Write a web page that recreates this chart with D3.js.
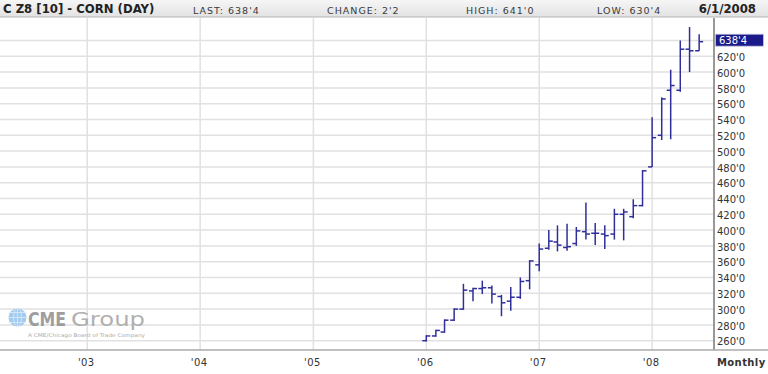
<!DOCTYPE html>
<html>
<head>
<meta charset="utf-8">
<script src="https://cdn.jsdelivr.net/npm/d3@7"></script>
<style>
  html, body { margin: 0; padding: 0; background: #fff; }
  svg { display: block; }
  text { font-family: "DejaVu Sans", Verdana, sans-serif; }
</style>
</head>
<body>
<svg id="chart" width="768" height="374"></svg>
<script>
// ---- data (monthly OHLC, CZ8 corn) ----
const months = ["2006-01","2006-02","2006-03","2006-04","2006-05","2006-06","2006-07","2006-08","2006-09","2006-10","2006-11","2006-12",
                "2007-01","2007-02","2007-03","2007-04","2007-05","2007-06","2007-07","2007-08","2007-09","2007-10","2007-11","2007-12",
                "2008-01","2008-02","2008-03","2008-04","2008-05","2008-06"];
const openV  = [260,266,271,286,300,323,326,327,316,310,315,336, 356,377,385,378,383,398,396,395,395,420,417,431, 480,520,577,577,629,627];
const highV  = [267,274,287,301,332,327,336,330,318,328,340,362, 383,400,406,408,404,435,409,406,427,427,439,476, 543,568,603,640,657,648];
const lowV   = [259,265,270,285,299,310,319,307,291,298,313,325, 348,375,373,374,380,388,381,376,388,387,415,430, 480,514,515,575,600,627];
const closeV = [266,273,286,300,324,326,327,319,308,315,335,361, 376,386,381,379,399,395,396,393,420,423,431,475, 517,566,583,629,627,638.5];
const yTicks = [260,280,300,320,340,360,380,400,420,440,460,480,500,520,540,560,580,600,620];
const gridValues = [260,280,300,320,340,360,380,400,420,440,460,480,500,520,540,560,580,600,620,640];
const yearTicks = ["2003","2004","2005","2006","2007","2008"];
const lastLabel = "638'4";
const lastValue = 638.5;
const headerItems = ["LAST: 638'4", "CHANGE: 2'2", "HIGH: 641'0", "LOW: 630'4"];
const titleText = "C Z8 [10] - CORN (DAY)";
const dateText = "6/1/2008";

// ---- layout ----
const W = 768, H = 374;
const plotLeft = 0, plotRight = 714, plotTop = 18, plotBottom = 350;
const parseM = d3.timeParse("%Y-%m");
const parseY = d3.timeParse("%Y");

const svg = d3.select("#chart");

const x = d3.scaleTime()
  .domain([new Date(2002, 2, 25), new Date(2008, 6, 19)])
  .range([plotLeft, plotRight]);
const y = d3.scaleLinear().domain([260, 640]).range([340.7, 40.5]);

// header
const defs = svg.append("defs");
const grad = defs.append("linearGradient").attr("id", "hdr").attr("x1", 0).attr("y1", 0).attr("x2", 0).attr("y2", 1);
grad.append("stop").attr("offset", "0%").attr("stop-color", "#f6f6f6");
grad.append("stop").attr("offset", "100%").attr("stop-color", "#e2e2e2");
svg.append("rect").attr("x", 0).attr("y", 0).attr("width", W).attr("height", 17).attr("fill", "url(#hdr)");
svg.append("line").attr("x1", 0).attr("x2", W).attr("y1", 17).attr("y2", 17).attr("stroke", "#b4b4b4").attr("stroke-width", 1);

svg.append("text").attr("x", 3).attr("y", 13.3)
  .attr("font-size", "11.7px").attr("font-weight", "bold").attr("fill", "#222").text(titleText);
const hdrX = [193, 327, 466, 597];
svg.selectAll("text.hdr").data(headerItems).join("text").attr("class", "hdr")
  .attr("x", (d, i) => hdrX[i]).attr("y", 13.6)
  .attr("font-size", "9.5px").attr("letter-spacing", "1px").attr("fill", "#3a3a3a").text(d => d);
svg.append("text").attr("x", 756).attr("y", 13.3).attr("text-anchor", "end")
  .attr("font-size", "11.7px").attr("font-weight", "bold").attr("fill", "#222").text(dateText);

// gridlines
const grid = svg.append("g");
grid.selectAll("line.h").data(gridValues).join("line").attr("class", "h")
  .attr("x1", plotLeft).attr("x2", plotRight)
  .attr("y1", d => y(d)).attr("y2", d => y(d))
  .attr("stroke", "#e1e1e1").attr("stroke-width", 1.5);
grid.selectAll("line.v").data(yearTicks).join("line").attr("class", "v")
  .attr("x1", d => x(parseY(d))).attr("x2", d => x(parseY(d)))
  .attr("y1", plotTop).attr("y2", plotBottom)
  .attr("stroke", "#e1e1e1").attr("stroke-width", 1.5);

// CME logo (watermark)
const logo = svg.append("g").attr("opacity", 0.85);
logo.append("circle").attr("cx", 17.5).attr("cy", 317.5).attr("r", 9).attr("fill", "#93c2ea");
[-5, 0, 5].forEach(dy => {
  logo.append("line").attr("x1", 8.5).attr("x2", 26.5).attr("y1", 317.5 + dy).attr("y2", 317.5 + dy)
    .attr("stroke", "#d6e8f7").attr("stroke-width", 0.8);
});
logo.append("ellipse").attr("cx", 17.5).attr("cy", 317.5).attr("rx", 4).attr("ry", 9)
  .attr("fill", "none").attr("stroke", "#d6e8f7").attr("stroke-width", 0.8);
logo.append("line").attr("x1", 17.5).attr("x2", 17.5).attr("y1", 308.5).attr("y2", 326.5)
  .attr("stroke", "#d6e8f7").attr("stroke-width", 0.8);
logo.append("text").attr("x", 28).attr("y", 326).attr("font-family", "Liberation Sans, Arial, sans-serif")
  .attr("font-size", "19px").attr("font-weight", "bold").attr("fill", "#8e8e8e")
  .attr("textLength", 38).attr("lengthAdjust", "spacingAndGlyphs").text("CME");
logo.append("text").attr("x", 71).attr("y", 326).attr("font-family", "Open Sans, sans-serif")
  .attr("font-size", "20px").attr("fill", "#a4a4a4")
  .attr("textLength", 74).attr("lengthAdjust", "spacingAndGlyphs").text("Group");
logo.append("text").attr("x", 28).attr("y", 337).attr("font-family", "Liberation Sans, Arial, sans-serif")
  .attr("font-size", "5px").attr("fill", "#9a9a9a")
  .attr("textLength", 117).attr("lengthAdjust", "spacingAndGlyphs").text("A CME/Chicago Board of Trade Company");

// OHLC bars
const bars = months.map((m, i) => ({ date: parseM(m), o: openV[i], h: highV[i], l: lowV[i], c: closeV[i] }));
const barColor = "#2f2f9c";
const tick = 4;
const gb = svg.append("g").attr("stroke", barColor).attr("stroke-width", 1.5).attr("fill", "none");
const bg = gb.selectAll("g").data(bars).join("g");
bg.append("line").attr("x1", d => x(d.date)).attr("x2", d => x(d.date)).attr("y1", d => y(d.h)).attr("y2", d => y(d.l));
bg.append("line").attr("x1", d => x(d.date) - tick).attr("x2", d => x(d.date)).attr("y1", d => y(d.o)).attr("y2", d => y(d.o));
bg.append("line").attr("x1", d => x(d.date)).attr("x2", d => x(d.date) + tick).attr("y1", d => y(d.c)).attr("y2", d => y(d.c));

// axes lines
svg.append("line").attr("x1", plotRight).attr("x2", plotRight).attr("y1", plotTop).attr("y2", plotBottom)
  .attr("stroke", "#777").attr("stroke-width", 1.5);
svg.append("line").attr("x1", 0).attr("x2", W).attr("y1", plotBottom).attr("y2", plotBottom)
  .attr("stroke", "#aaa").attr("stroke-width", 1.5);

// y axis labels
svg.selectAll("text.yl").data(yTicks).join("text").attr("class", "yl")
  .attr("x", 717).attr("y", d => y(d) + 4.6)
  .attr("font-size", "10px").attr("fill", "#333").text(d => d + "'0");

// last price badge
const by = y(lastValue) - 1.5;
svg.append("rect").attr("x", 715.5).attr("y", by - 6).attr("width", 48).attr("height", 12)
  .attr("fill", "#1a1a8a").attr("stroke", "#c8c8e8").attr("stroke-width", 0.8);
svg.append("text").attr("x", 719).attr("y", by + 3.8).attr("font-size", "10px").attr("fill", "#fff").text(lastLabel);

// x axis labels
const fmt = d3.timeFormat("'%y");
svg.selectAll("text.xl").data(yearTicks).join("text").attr("class", "xl")
  .attr("x", d => x(parseY(d)) - 1).attr("y", 366).attr("text-anchor", "middle")
  .attr("font-size", "10px").attr("letter-spacing", "0.4px").attr("fill", "#333").text(d => fmt(parseY(d)));
svg.append("text").attr("x", 717).attr("y", 366).attr("font-size", "10px").attr("font-weight", "bold")
  .attr("letter-spacing", "0.4px").attr("fill", "#333").text("Monthly");
</script>
</body>
</html>
